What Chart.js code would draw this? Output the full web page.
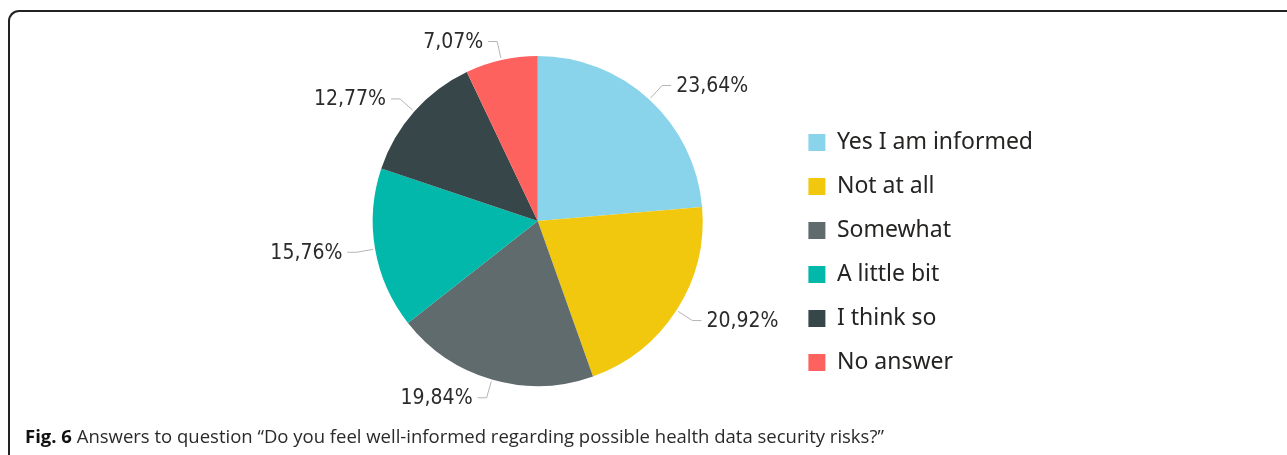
<!DOCTYPE html>
<html>
<head>
<meta charset="utf-8">
<script src="https://cdn.jsdelivr.net/npm/chart.js@4/dist/chart.umd.min.js"></script>
<style>
  html, body { margin: 0; padding: 0; background: #fff; overflow: hidden; }
  body { width: 1287px; height: 455px; position: relative; }
  #frame { position: absolute; left: 8px; top: 10px; width: 1400px; height: 500px;
           border-left: 2px solid #222; border-top: 2px solid #222; border-top-left-radius: 11px; }
  #wrap { position: absolute; left: 0; top: 0; width: 1287px; height: 425px; }
  #caption { position: absolute; left: 25px; top: 426px; font-family: "Open Sans"; font-size: 18.5px;
             line-height: 20px; color: #2a2a2a; white-space: nowrap; }
  #caption b { font-weight: 700; color: #111; }
</style>
</head>
<body>
<div id="frame"></div>
<div id="wrap"><canvas id="pieChart"></canvas></div>
<div id="caption"><b>Fig. 6</b> Answers to question “Do you feel well-informed regarding possible health data security risks?”</div>
<script>
// Answers (percent of respondents)
const answerLabels = ['Yes I am informed', 'Not at all', 'Somewhat', 'A little bit', 'I think so', 'No answer'];
const answerShares = [23.64, 20.92, 19.84, 15.76, 12.77, 7.07];
const answerColors = ['#8AD4EB', '#F2C80F', '#5F6B6D', '#01B8AA', '#374649', '#FD625E'];

const legendFont = { family: 'Noto Sans', size: 23 };

// labels outside the pie with small leader lines
const outsideLabels = {
    id: 'outsideLabels',
    afterDatasetsDraw(chart) {
        const ctx = chart.ctx;
        const meta = chart.getDatasetMeta(0);
        ctx.save();
        ctx.font = '21px "DejaVu Sans Condensed"';
        ctx.textBaseline = 'middle';
        meta.data.forEach((arc, i) => {
            const mid = (arc.startAngle + arc.endAngle) / 2;
            const r = arc.outerRadius;
            const cos = Math.cos(mid), sin = Math.sin(mid);
            const x0 = arc.x + cos * (r + 2), y0 = arc.y + sin * (r + 2);
            const x1 = arc.x + cos * (r + 19), y1 = arc.y + sin * (r + 19);
            const right = cos >= 0;
            const x2 = x1 + (right ? 9 : -9);
            ctx.strokeStyle = '#b4b4b4';
            ctx.lineWidth = 1;
            ctx.beginPath();
            ctx.moveTo(x0, y0);
            ctx.lineTo(x1, y1);
            ctx.lineTo(x2, y1);
            ctx.stroke();
            ctx.fillStyle = '#2b2b2b';
            ctx.textAlign = right ? 'left' : 'right';
            const txt = answerShares[i].toFixed(2).replace('.', ',') + '%';
            ctx.fillText(txt, x2 + (right ? 5 : -5), y1 + 1);
        });
        ctx.restore();
    }
};

window.onload = function() {
    // measure the widest legend entry so the pie lands where it should
    const m = document.createElement('canvas').getContext('2d');
    m.font = legendFont.size + 'px "' + legendFont.family + '"';
    const textW = Math.max(...answerLabels.map(t => m.measureText(t).width));
    const legendW = 23 * 2 + 17 + legendFont.size / 2 + textW;
    const padRight = Math.round(1287 - 786 - legendW + 14);

    const ctx = document.getElementById('pieChart').getContext('2d');
    new Chart(ctx, {
        type: 'pie',
        data: {
            labels: answerLabels,
            datasets: [{
                data: answerShares,
                backgroundColor: answerColors,
                borderWidth: 0,
                hoverOffset: 0
            }]
        },
        options: {
            responsive: true,
            maintainAspectRatio: false,
            animation: false,
            radius: 165,
            layout: { padding: { left: 288, right: padRight, top: 47, bottom: 30 } },
            plugins: {
                tooltip: { enabled: false },
                legend: {
                    position: 'right',
                    align: 'end',
                    labels: {
                        boxWidth: 17,
                        boxHeight: 17,
                        padding: 21,
                        color: '#252423',
                        font: legendFont
                    }
                }
            }
        },
        plugins: [outsideLabels]
    });
};
</script>
</body>
</html>
